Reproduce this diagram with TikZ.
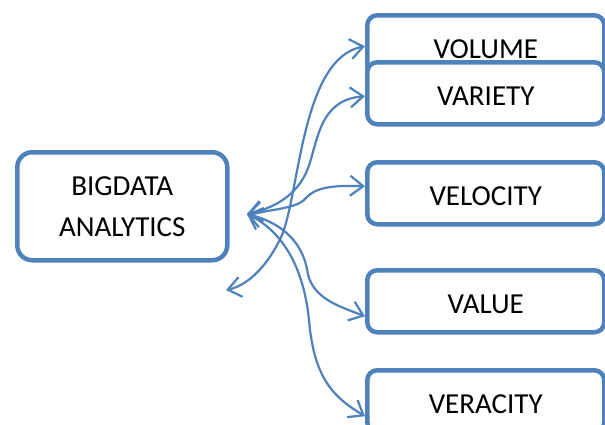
\documentclass[tikz,border=0pt]{standalone}
\usepackage{fontspec}
\setmainfont{Carlito}
\usetikzlibrary{arrows.meta}
\definecolor{vblue}{HTML}{4F81BD}
\begin{document}
\begin{tikzpicture}[x=1pt, y=-1pt, line join=round, line cap=round,
		bbox/.style={draw=vblue, line width=4.5pt, fill=white, inner sep=0pt,
			font=\fontsize{29}{41}\selectfont},
		vbox/.style={bbox, anchor=north west, rounded corners=10pt,
			minimum width=237pt, text height=43pt, text depth=19pt},
		link/.style={draw=vblue, line width=2.2pt,
			>={Straight Barb[length=13pt,width=20pt]}}]
		\useasboundingbox (0,0) rectangle (605,424);
		% boxes
		\node[bbox, anchor=north west, rounded corners=15pt, align=center,
			minimum width=210pt, minimum height=108pt] (big) at (15,150)
			{BIGDATA\\ANALYTICS};
		\node[vbox] (volume) at (365,13) {VOLUME};
		\node[vbox] (variety) at (365,60) {VARIETY};
		\node[vbox] (velocity) at (365,160) {VELOCITY};
		\node[vbox] (value) at (365,268) {VALUE};
		\node[vbox] (veracity) at (365,368) {VERACITY};
		\path
			(247,214) coordinate (hub)
			(226,290) coordinate (loose);
		% arrows
		\draw[link,<->] (volume.west) .. controls (302,58) and (300,190) .. (282,235)
			.. controls (270,262) and (250,285) .. (loose);
		\draw[link,<->] ([yshift=-3pt]variety.west) .. controls (315,100) and (318,150) .. (305,175)
			.. controls (295,195) and (275,208) .. (hub);
		\draw[link,<->] (hub) .. controls (290,208) and (300,205) .. (306,198)
			.. controls (315,188) and (330,185) .. ([yshift=7pt]velocity.west);
		\draw[link,<->] (hub) .. controls (290,225) and (305,250) .. (308,275)
			.. controls (315,298) and (335,305) .. ([yshift=-15pt]value.west);
		\draw[link,<->] (hub) .. controls (290,235) and (305,280) .. (309,320)
			.. controls (314,380) and (335,398) .. ([yshift=-15pt]veracity.west);
\end{tikzpicture}
\end{document}
